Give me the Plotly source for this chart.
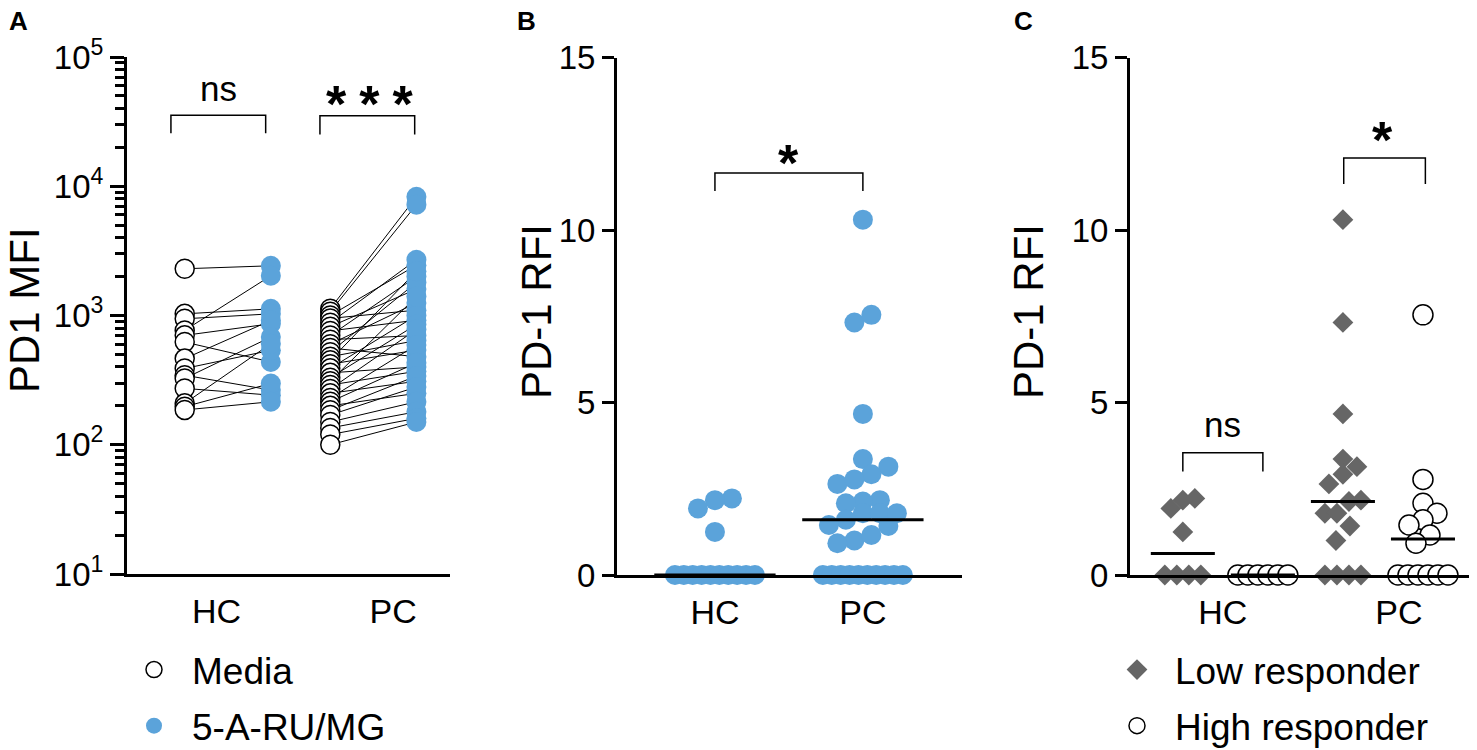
import numpy as np
import plotly.graph_objects as go

# panel A: PD1 MFI, paired media vs 5-A-RU/MG stimulation
hc_media = [2300, 1030, 943, 767, 702, 623, 464, 389, 345, 326, 273, 209, 197, 186]
hc_stim = [2425, 1126, 1030, 2030, 863, 437, 915, 538, 265, 681, 242, 605, 298, 215]
pc_media = [1130, 1070, 1000, 950, 880, 820, 760, 700, 650, 600, 560, 520, 480, 450, 420, 390,
            360, 330, 310, 290, 270, 250, 230, 215, 200, 185, 170, 150, 135, 120, 100]
pc_stim = [8300, 7200, 2450, 1100, 2700, 1600, 920, 2000, 700, 1250, 480, 1800, 640, 2200, 540, 1000,
           400, 850, 1400, 370, 780, 310, 590, 430, 250, 340, 280, 215, 180, 160, 150]

# panel C: PD-1 RFI split by responder status (panel B pools them)
hc_low = [2.22, 2.17, 1.93, 1.25, 0, 0, 0, 0]
hc_high = [0, 0, 0, 0, 0, 0]
pc_low = [10.3, 7.32, 4.67, 3.36, 3.14, 2.92, 2.64, 2.17, 2.13, 1.79, 1.79, 1.42, 1.0, 0, 0, 0, 0]
pc_high = [7.54, 2.77, 2.08, 1.79, 1.6, 1.45, 1.16, 0.92, 0, 0, 0, 0, 0, 0]
hc_rfi = hc_low + hc_high
pc_rfi = pc_low + pc_high

groups = ["HC", "PC"]

BLUE = "#5ba3da"
GREY = "#666666"
FONT = "Arial, Liberation Sans, sans-serif"

# page body has an 8px margin, so the figure is a bit smaller and every
# pixel position below is given in full-page pixels
OFF = 8
W, H = 1477 - OFF, 750 - OFF


def px(x):
    return (x - OFF) / W


def py(y):
    return 1 - (y - OFF) / H


def swarm(vals, center, ux, uy, diam, halfw, maxstep):
    # spread points that sit at about the same height sideways (prism-like scatter)
    order = sorted(range(len(vals)), key=lambda i: vals[i])
    rows = []
    for i in order:
        if rows and (vals[i] - vals[rows[-1][0]]) * uy < diam * 0.9:
            rows[-1].append(i)
        else:
            rows.append([i])
    xs = [center] * len(vals)
    for row in rows:
        n = len(row)
        if n == 1:
            continue
        step = min(maxstep, 2 * halfw / (n - 1))
        for k, i in enumerate(row):
            xs[i] = center + (k - (n - 1) / 2) * step / ux
    return xs


def median_line(vals, center, half):
    m = float(np.median(vals))
    return [center - half, center + half], [m, m]


fig = go.Figure()

# ---- A ----
xa = [0, 1, 1.69, 2.69]
lx, ly = [], []
for m, s in zip(hc_media, hc_stim):
    lx += [xa[0], xa[1], None]
    ly += [m, s, None]
for m, s in zip(pc_media, pc_stim):
    lx += [xa[2], xa[3], None]
    ly += [m, s, None]
fig.add_trace(go.Scatter(x=lx, y=ly, mode="lines", line=dict(color="black", width=1),
                         showlegend=False, xaxis="x", yaxis="y", hoverinfo="skip"))
fig.add_trace(go.Scatter(x=[xa[0]] * len(hc_media) + [xa[2]] * len(pc_media), y=hc_media + pc_media,
                         mode="markers", name="Media", legend="legend", legendgroup="m",
                         marker=dict(size=19, color="white", line=dict(color="black", width=1.5)),
                         cliponaxis=False, xaxis="x", yaxis="y"))
fig.add_trace(go.Scatter(x=[xa[1]] * len(hc_stim) + [xa[3]] * len(pc_stim), y=hc_stim + pc_stim,
                         mode="markers", name="5-A-RU/MG", legend="legend", legendgroup="s",
                         marker=dict(size=20, color=BLUE),
                         cliponaxis=False, xaxis="x", yaxis="y"))

# ---- B ----
uxB, uy = 148, 34.5
xb = [0, 1]
for vals, c in zip([hc_rfi, pc_rfi], xb):
    fig.add_trace(go.Scatter(x=swarm(vals, c, uxB, uy, 20, 40, 17), y=vals, mode="markers",
                             marker=dict(size=20, color=BLUE), showlegend=False,
                             cliponaxis=False, xaxis="x2", yaxis="y2"))
for vals, c in zip([hc_rfi, pc_rfi], xb):
    mx, my = median_line(vals, c, 0.41)
    fig.add_trace(go.Scatter(x=mx, y=my, mode="lines", line=dict(color="black", width=3),
                             showlegend=False, cliponaxis=False, xaxis="x2", yaxis="y2"))

# ---- C ----
uxC = 80
xc = [0, 1, 2, 3]
lowx = swarm(hc_low, xc[0], uxC, uy, 20, 18, 12) + swarm(pc_low, xc[2], uxC, uy, 20, 18, 14)
highx = swarm(hc_high, xc[1], uxC, uy, 20, 25, 10) + swarm(pc_high, xc[3], uxC, uy, 20, 25, 14)
fig.add_trace(go.Scatter(x=lowx, y=hc_low + pc_low, mode="markers", name="Low responder",
                         legend="legend2", legendgroup="lo",
                         marker=dict(symbol="diamond", size=16, color=GREY),
                         cliponaxis=False, xaxis="x3", yaxis="y3"))
fig.add_trace(go.Scatter(x=highx, y=hc_high + pc_high, mode="markers", name="High responder",
                         legend="legend2", legendgroup="hi",
                         marker=dict(size=20, color="white", line=dict(color="black", width=1.5)),
                         cliponaxis=False, xaxis="x3", yaxis="y3"))
for vals, c in zip([hc_low, hc_high, pc_low, pc_high], xc):
    mx, my = median_line(vals, c, 0.4)
    fig.add_trace(go.Scatter(x=mx, y=my, mode="lines", line=dict(color="black", width=3),
                             showlegend=False, cliponaxis=False, xaxis="x3", yaxis="y3"))


# significance brackets
def bracket(x0, x1, ytop, ybot, xa_, ya_):
    fig.add_trace(go.Scatter(x=[x0, x0, x1, x1], y=[ybot, ytop, ytop, ybot], mode="lines",
                             line=dict(color="black", width=1.5), showlegend=False,
                             hoverinfo="skip", cliponaxis=False, xaxis=xa_, yaxis=ya_))


bracket(-0.16, 0.94, 10 ** 4.55, 10 ** 4.41, "x", "y")
bracket(1.57, 2.67, 10 ** 4.545, 10 ** 4.40, "x", "y")
bracket(0, 1, 11.65, 11.13, "x2", "y2")
bracket(0, 1, 3.54, 3.0, "x3", "y3")
bracket(2.01, 3.03, 12.09, 11.33, "x3", "y3")

star = "*\u2005*\u2005*"
ann = [
    dict(text="ns", x=0.39, y=4.755, xref="x", yref="y", font=dict(size=35)),
    dict(text="<b>%s</b>" % star, x=2.15, y=4.64, xref="x", yref="y", font=dict(size=52)),
    dict(text="<b>*</b>", x=0.5, y=11.95, xref="x2", yref="y2", font=dict(size=52)),
    dict(text="ns", x=0.5, y=4.35, xref="x3", yref="y3", font=dict(size=35)),
    dict(text="<b>*</b>", x=2.5, y=12.6, xref="x3", yref="y3", font=dict(size=52)),
    dict(text="<b>A</b>", x=px(18), y=py(21), xref="paper", yref="paper", font=dict(size=26)),
    dict(text="<b>B</b>", x=px(526), y=py(21), xref="paper", yref="paper", font=dict(size=26)),
    dict(text="<b>C</b>", x=px(1023), y=py(21), xref="paper", yref="paper", font=dict(size=26)),
    dict(text="PD1 MFI", x=px(24), y=py(310), xref="paper", yref="paper", textangle=-90,
         font=dict(size=42)),
    dict(text="PD-1 RFI", x=px(536), y=py(312), xref="paper", yref="paper", textangle=-90,
         font=dict(size=42)),
    dict(text="PD-1 RFI", x=px(1028), y=py(312), xref="paper", yref="paper", textangle=-90,
         font=dict(size=42)),
]
for a in ann:
    a.setdefault("showarrow", False)
    a.setdefault("xanchor", "center")
    a.setdefault("yanchor", "middle")
    a["font"]["color"] = "black"
    a["font"]["family"] = FONT

axis_common = dict(showline=True, linecolor="black", linewidth=3, showgrid=False, zeroline=False,
                   automargin=False, tickfont=dict(size=33, color="black", family=FONT))
xcommon = dict(axis_common, ticks="", tickfont=dict(size=34, color="black", family=FONT),
               ticklabelstandoff=5)
ycommon = dict(axis_common, ticks="outside", ticklen=12, tickwidth=3, tickcolor="black")

legend_font = dict(size=37, color="black", family=FONT)
fig.update_layout(
    width=W, height=H, margin=dict(l=0, r=0, t=0, b=0, autoexpand=False),
    paper_bgcolor="white", plot_bgcolor="white", font=dict(family=FONT, color="black"),
    xaxis=dict(xcommon, domain=[px(127), px(450)], range=[-0.67, 3.08], anchor="y",
               tickvals=[0.37, 2.42], ticktext=groups),
    yaxis=dict(ycommon, domain=[py(574), py(57)], type="log", range=[1, 5], anchor="x",
               tickvals=[10, 100, 1000, 10000, 100000],
               ticktext=["10<sup>%d</sup>" % k for k in range(1, 6)], ticklen=14,
               minor=dict(ticks="outside", ticklen=9, tickwidth=2.5, tickcolor="black", dtick="D1",
                          showgrid=False)),
    xaxis2=dict(xcommon, domain=[px(617), px(962)], range=[-0.662, 1.67], anchor="y2",
                tickvals=xb, ticktext=groups),
    yaxis2=dict(ycommon, domain=[py(575), py(57.5)], range=[0, 15], anchor="x2",
                tickvals=[0, 5, 10, 15]),
    xaxis3=dict(xcommon, domain=[px(1130), 1.0], range=[-0.66, 3.675], anchor="y3",
                tickvals=[0.5, 2.7], ticktext=groups),
    yaxis3=dict(ycommon, domain=[py(575), py(57.5)], range=[0, 15], anchor="x3",
                tickvals=[0, 5, 10, 15]),
    legend=dict(x=px(116), y=py(639), xanchor="left", yanchor="top", bgcolor="rgba(0,0,0,0)",
                font=legend_font, itemwidth=66, tracegroupgap=5),
    legend2=dict(x=px(1099), y=py(639), xanchor="left", yanchor="top", bgcolor="rgba(0,0,0,0)",
                 font=legend_font, itemwidth=66, tracegroupgap=5),
    annotations=ann,
)

fig.write_html("out.html")
